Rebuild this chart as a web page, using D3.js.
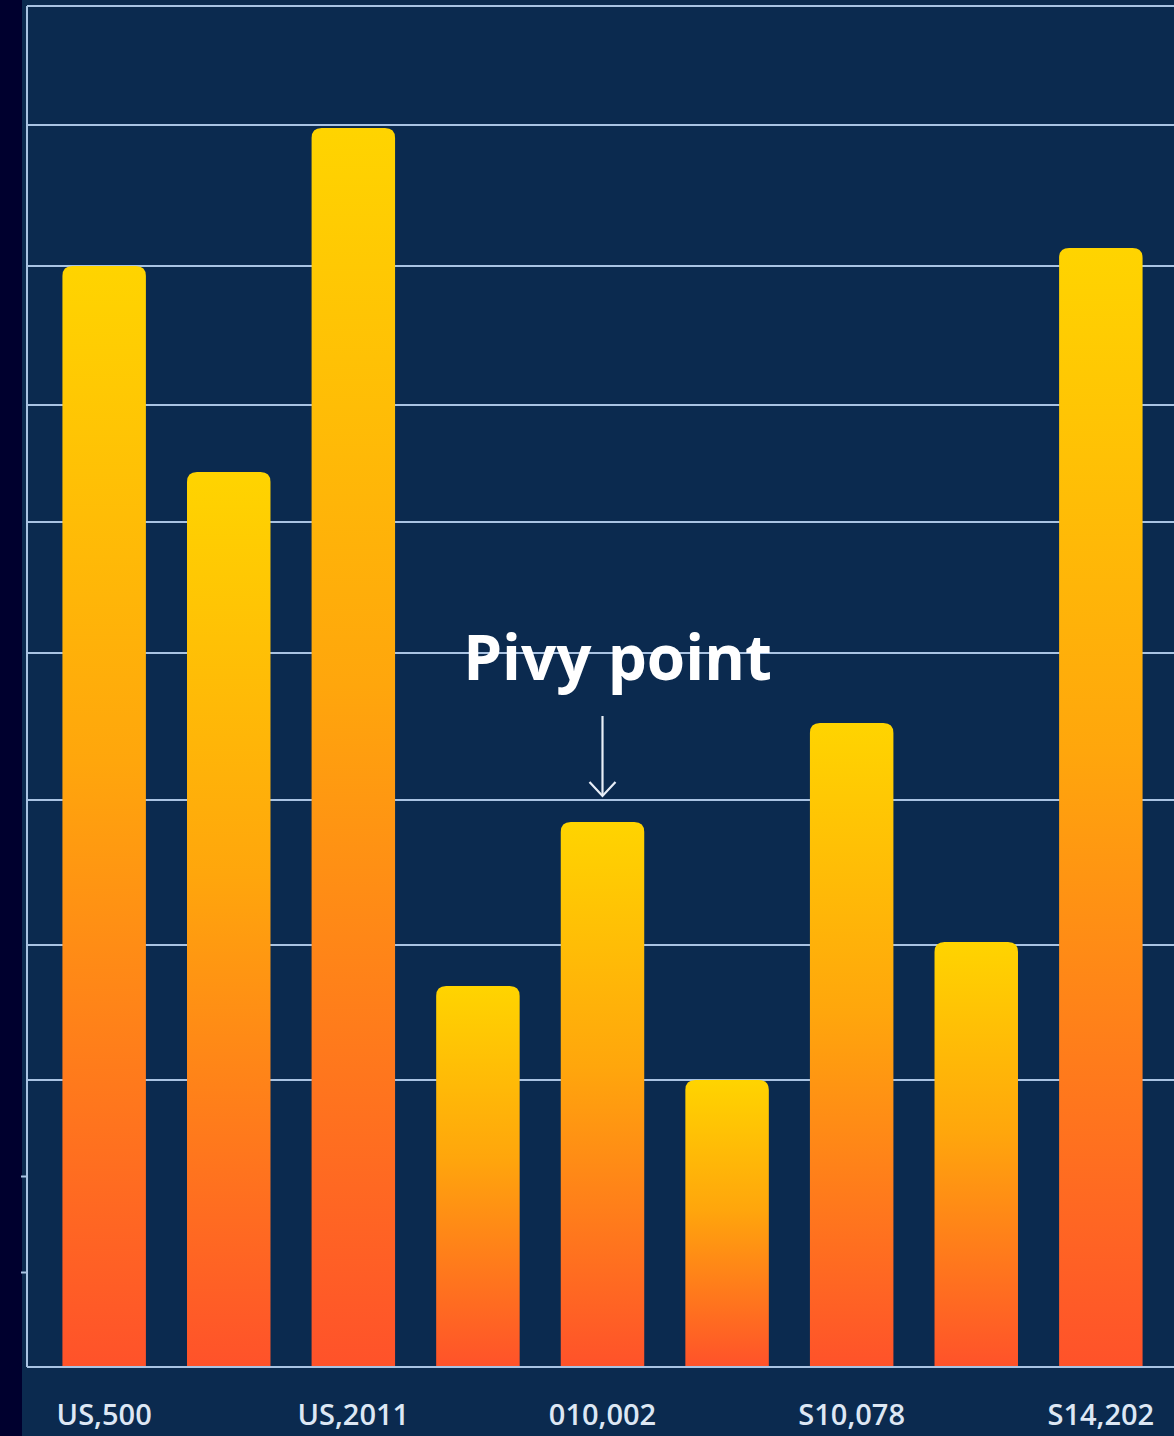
<!DOCTYPE html>
<html>
<head>
<meta charset="utf-8">
<script src="https://cdn.jsdelivr.net/npm/d3@7"></script>
<style>
  body { margin: 0; background: #00002e; }
  svg { display: block; }
</style>
</head>
<body>
<div id="chart"></div>
<script>
// values (arbitrary units, 0 at the baseline)
const categories = ['b1', 'b2', 'b3', 'b4', 'b5', 'b6', 'b7', 'b8', 'b9'];
const values = [110.1, 89.5, 123.9, 38.1, 54.5, 28.7, 64.4, 42.5, 111.9];
const tickLabels = ['US,500', '', 'US,2011', '', '010,002', '', 'S10,078', '', 'S14,202'];
const gridValues = [28.7, 42.2, 56.7, 71.4, 84.5, 96.2, 110.1, 124.2, 136.1];
const shortTicks = [9.5, 19.1];
const annotation = {index: 4, text: 'Pivy point'};

const W = 1174, H = 1436;
const margin = {top: 6, right: 0, bottom: 69, left: 27};

const svg = d3.select('#chart').append('svg')
    .attr('width', W)
    .attr('height', H);

const defs = svg.append('defs');
const grad = defs.append('linearGradient')
    .attr('id', 'barGrad')
    .attr('x1', 0).attr('y1', 0).attr('x2', 0).attr('y2', 1);
grad.append('stop').attr('offset', '0%').attr('stop-color', '#ffd400');
grad.append('stop').attr('offset', '45%').attr('stop-color', '#ffa60c');
grad.append('stop').attr('offset', '100%').attr('stop-color', '#ff522a');

// panel background, dark strip on the far left stays visible
svg.append('rect')
    .attr('x', 22).attr('y', 0)
    .attr('width', W - 22).attr('height', H)
    .attr('fill', '#0b2a4f');

const x = d3.scaleBand()
    .domain(categories)
    .range([40, 1165])
    .paddingInner(0.33)
    .paddingOuter(0.18);

const y = d3.scaleLinear()
    .domain([0, 136.1])
    .range([H - margin.bottom, margin.top]);

const lineColor = '#a9c3e3';

// gridlines
svg.append('g')
    .selectAll('line')
    .data(gridValues)
    .join('line')
    .attr('x1', margin.left)
    .attr('x2', W)
    .attr('y1', d => y(d))
    .attr('y2', d => y(d))
    .attr('stroke', lineColor)
    .attr('stroke-width', 2);

// left axis with its short ticks
const yAxis = d3.axisLeft(y)
    .tickValues(shortTicks)
    .tickSize(6)
    .tickFormat('');

const yg = svg.append('g')
    .attr('transform', 'translate(' + margin.left + ',0)')
    .call(yAxis);
yg.select('.domain').remove();
yg.selectAll('line').attr('stroke', lineColor).attr('stroke-width', 2);

svg.append('line')
    .attr('x1', margin.left).attr('x2', margin.left)
    .attr('y1', y(136.1)).attr('y2', y(0))
    .attr('stroke', lineColor)
    .attr('stroke-width', 2);

// bars with rounded top corners
const r = 10;
function barPath(d, i) {
    const x0 = x(categories[i]), w = x.bandwidth();
    const top = y(d), base = y(0);
    return 'M' + x0 + ',' + base +
        'V' + (top + r) +
        'Q' + x0 + ',' + top + ' ' + (x0 + r) + ',' + top +
        'H' + (x0 + w - r) +
        'Q' + (x0 + w) + ',' + top + ' ' + (x0 + w) + ',' + (top + r) +
        'V' + base + 'Z';
}

svg.append('g')
    .selectAll('path')
    .data(values)
    .join('path')
    .attr('d', barPath)
    .attr('fill', 'url(#barGrad)');

// baseline
svg.append('line')
    .attr('x1', margin.left).attr('x2', W)
    .attr('y1', y(0)).attr('y2', y(0))
    .attr('stroke', lineColor)
    .attr('stroke-width', 2);

// category labels
const xAxis = d3.axisBottom(x)
    .tickSize(0)
    .tickFormat((d, i) => tickLabels[i]);

const xg = svg.append('g')
    .attr('transform', 'translate(0,' + y(0) + ')')
    .call(xAxis);
xg.select('.domain').remove();
xg.selectAll('text')
    .attr('dy', 0)
    .attr('y', 58)
    .attr('fill', '#dde7f4')
    .style('font-family', '"Open Sans", sans-serif')
    .style('font-size', '29px')
    .style('font-weight', 600);

// annotation
const ax = x(categories[annotation.index]) + x.bandwidth() / 2;
const ay = y(values[annotation.index]);

svg.append('text')
    .attr('x', ax + 15)
    .attr('y', ay - 142)
    .attr('text-anchor', 'middle')
    .attr('fill', '#ffffff')
    .style('font-family', '"Open Sans", sans-serif')
    .style('font-weight', 700)
    .style('font-size', '62px')
    .text(annotation.text);

const arrow = svg.append('g')
    .attr('stroke', '#e8eef7')
    .attr('stroke-width', 2.2)
    .attr('fill', 'none');
arrow.append('line')
    .attr('x1', ax).attr('x2', ax)
    .attr('y1', ay - 106).attr('y2', ay - 26);
arrow.append('path')
    .attr('d', 'M' + (ax - 13) + ',' + (ay - 40) + 'L' + ax + ',' + (ay - 26) + 'L' + (ax + 13) + ',' + (ay - 40));
</script>
</body>
</html>
